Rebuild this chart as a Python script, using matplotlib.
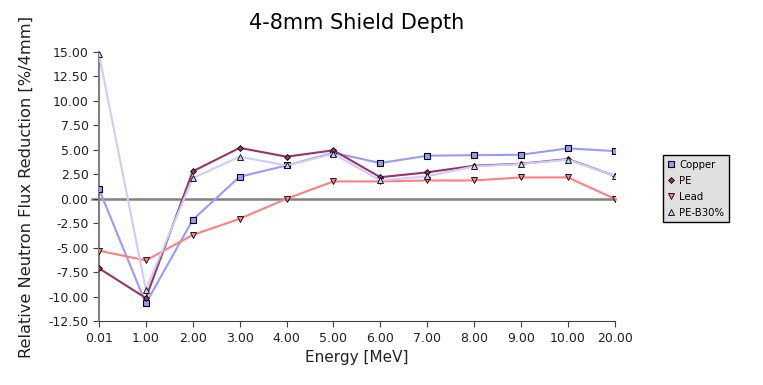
import numpy as np
import matplotlib
matplotlib.use("Agg")
import matplotlib.pyplot as plt

energies = ["0.01", "1.00", "2.00", "3.00", "4.00", "5.00", "6.00",
            "7.00", "8.00", "9.00", "10.00", "20.00"]
copper = [1.0, -10.7, -2.15, 2.25, 3.4, 4.7, 3.65, 4.4, 4.45, 4.5, 5.15, 4.87]
pe = [-7.1, -10.15, 2.8, 5.2, 4.3, 4.95, 2.2, 2.7, 3.37, 3.58, 4.05, 2.35]
lead = [-5.3, -6.3, -3.7, -2.05, 0.0, 1.77, 1.77, 1.87, 1.87, 2.18, 2.18, 0.0]
pe_b30 = [14.8, -9.3, 2.1, 4.3, 3.4, 4.6, 1.87, 2.3, 3.3, 3.55, 4.0, 2.35]
yticks = np.arange(-12.5, 15.01, 2.5)

fig = plt.figure(figsize=(7.63, 3.85), dpi=100)
ax = fig.add_axes([0.1297, 0.166, 0.676, 0.699])

x = np.arange(len(energies))
ax.axhline(0, color="#808080", lw=1.8, zorder=1, xmin=-0.013, clip_on=False)

ax.plot(x, copper, color="#9999ff", lw=1.5, marker="s", ms=4.5,
        mfc="#9999ff", mec="black", mew=0.8, label="Copper", zorder=3)
ax.plot(x, pe, color="#993366", lw=1.5, marker="D", ms=3,
        mfc="#993366", mec="black", mew=0.6, label="PE", zorder=3)
ax.plot(x, lead, color="#ff8080", lw=1.5, marker="v", ms=4,
        mfc="#ff8080", mec="black", mew=0.6, label="Lead", zorder=3)
ax.plot(x, pe_b30, color="#ccccff", lw=1.5, marker="^", ms=4,
        mfc="#ccccff", mec="black", mew=0.6, label="PE-B30%", zorder=3)

ax.set_xlim(0, len(energies) - 1)
ax.set_ylim(-12.5, 15)
ax.set_xticks(x)
ax.set_xticklabels(energies)
ax.set_yticks(yticks)
ax.set_yticklabels([f"{v:.2f}" for v in yticks])
ax.tick_params(labelsize=9, length=4, color="#404040", labelcolor="#222222")

for s in ["top", "right"]:
    ax.spines[s].set_visible(False)
ax.spines["left"].set_color("#808080")
ax.spines["left"].set_linewidth(1.5)
ax.spines["bottom"].set_color("#404040")

ax.set_xlabel("Energy [MeV]", fontsize=11, color="#222222")
ax.set_ylabel("Relative Neutron Flux Reduction [%/4mm]", fontsize=11.7,
              color="#222222", labelpad=10)
fig.text(0.468, 0.94, "4-8mm Shield Depth", ha="center", va="center", fontsize=15)

leg = ax.legend(loc="upper left", bbox_to_anchor=(1.093, 0.617), fontsize=7.3,
                frameon=True, fancybox=False, handlelength=0.8, handletextpad=0.4,
                borderpad=0.45, labelspacing=0.6, borderaxespad=0)
leg.get_frame().set_facecolor("#e0e0e0")
leg.get_frame().set_edgecolor("black")
leg.get_frame().set_alpha(1)
for h in leg.get_lines():
    h.set_linestyle("none")

fig.savefig("out.png", dpi=100)
